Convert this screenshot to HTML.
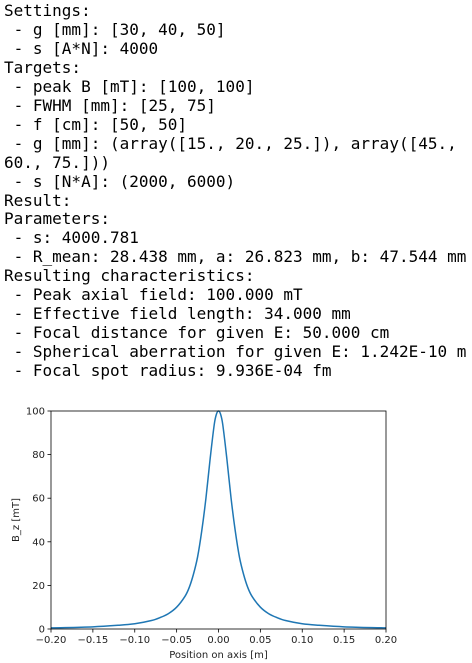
<!DOCTYPE html>
<html><head><meta charset="utf-8"><style>
body{margin:0;width:472px;height:663px;background:#fff;overflow:hidden}
pre{position:absolute;left:4px;top:2px;margin:0;font:16px/18.95px "DejaVu Sans Mono","Liberation Mono",monospace;color:#000}
svg{position:absolute;left:0;top:0}
svg text{font-family:"DejaVu Sans","Liberation Sans",sans-serif;font-size:10px;fill:#222}
</style></head><body>
<pre>Settings:
 - g [mm]: [30, 40, 50]
 - s [A*N]: 4000
Targets:
 - peak B [mT]: [100, 100]
 - FWHM [mm]: [25, 75]
 - f [cm]: [50, 50]
 - g [mm]: (array([15., 20., 25.]), array([45.,
60., 75.]))
 - s [N*A]: (2000, 6000)
Result:
Parameters:
 - s: 4000.781
 - R_mean: 28.438 mm, a: 26.823 mm, b: 47.544 mm
Resulting characteristics:
 - Peak axial field: 100.000 mT
 - Effective field length: 34.000 mm
 - Focal distance for given E: 50.000 cm
 - Spherical aberration for given E: 1.242E-10 m
 - Focal spot radius: 9.936E-04 fm</pre>
<svg width="472" height="663">
<g id="g"></g>
</svg>
<script>
const xTicks=[-0.2,-0.15,-0.1,-0.05,0,0.05,0.1,0.15,0.2];
const xTickLabels=["\u22120.20","\u22120.15","\u22120.10","\u22120.05","0.00","0.05","0.10","0.15","0.20"];
const yTicks=[0,20,40,60,80,100];
const xs=[-0.2,-0.15,-0.12,-0.1,-0.08,-0.07,-0.06,-0.05,-0.04,-0.035,-0.03,-0.025,-0.02,-0.015,-0.01,-0.005,-0.0025,0,0.0025,0.005,0.01,0.015,0.02,0.025,0.03,0.035,0.04,0.05,0.06,0.07,0.08,0.1,0.12,0.15,0.2];
const ys=[0.5,1.0,1.7,2.4,3.9,5.2,7.0,10,15,19,25,33,45,60,78,94,98.5,100,98.5,94,78,60,45,33,25,19,15,10,7.0,5.2,3.9,2.4,1.7,1.0,0.5];
const L=51,R=386,T=411,B=629;
const sx=v=>L+(v+0.2)/0.4*(R-L);
const sy=v=>B-v/100*(B-T);
const g=document.getElementById('g');
const NS='http://www.w3.org/2000/svg';
function mk(t,a){const e=document.createElementNS(NS,t);for(const k in a)e.setAttribute(k,a[k]);g.appendChild(e);return e;}
// Hermite curve with slopes in data space (handles non-uniform spacing)
const n=xs.length;
const m=xs.map((x,i)=>{const a=Math.max(0,i-1),b=Math.min(n-1,i+1);return (ys[b]-ys[a])/(xs[b]-xs[a]);});
let d='M'+sx(xs[0])+','+sy(ys[0]);
for(let i=0;i<n-1;i++){const h=xs[i+1]-xs[i];
const c1x=xs[i]+h/3,c1y=ys[i]+m[i]*h/3,c2x=xs[i+1]-h/3,c2y=ys[i+1]-m[i+1]*h/3;
d+=` C${sx(c1x)},${sy(c1y)} ${sx(c2x)},${sy(c2y)} ${sx(xs[i+1])},${sy(ys[i+1])}`;}
const line=mk('path',{d:d,fill:'none',stroke:'#1f77b4','stroke-width':1.5});


const fr=mk('rect',{x:L,y:T,width:R-L,height:B-T,fill:'none',stroke:'#000','stroke-width':0.8});


xTicks.forEach((v,i)=>{const x=sx(v);mk('line',{x1:x,x2:x,y1:B,y2:B+3.5,stroke:'#000','stroke-width':0.8});
const t=mk('text',{x:x,y:B+14,'text-anchor':'middle'});t.textContent=xTickLabels[i];

});
yTicks.forEach(v=>{const y=sy(v);mk('line',{x1:L-3.5,x2:L,y1:y,y2:y,stroke:'#000','stroke-width':0.8});
const t=mk('text',{x:L-6,y:y+3.5,'text-anchor':'end'});t.textContent=v;

});
const xl=mk('text',{x:(L+R)/2,y:B+29,'text-anchor':'middle'});xl.textContent='Position on axis [m]';


const yl=mk('text',{x:0,y:0,'text-anchor':'middle',transform:`translate(19,${(T+B)/2}) rotate(-90)`});yl.textContent='B_z [mT]';


</script>
</body></html>
